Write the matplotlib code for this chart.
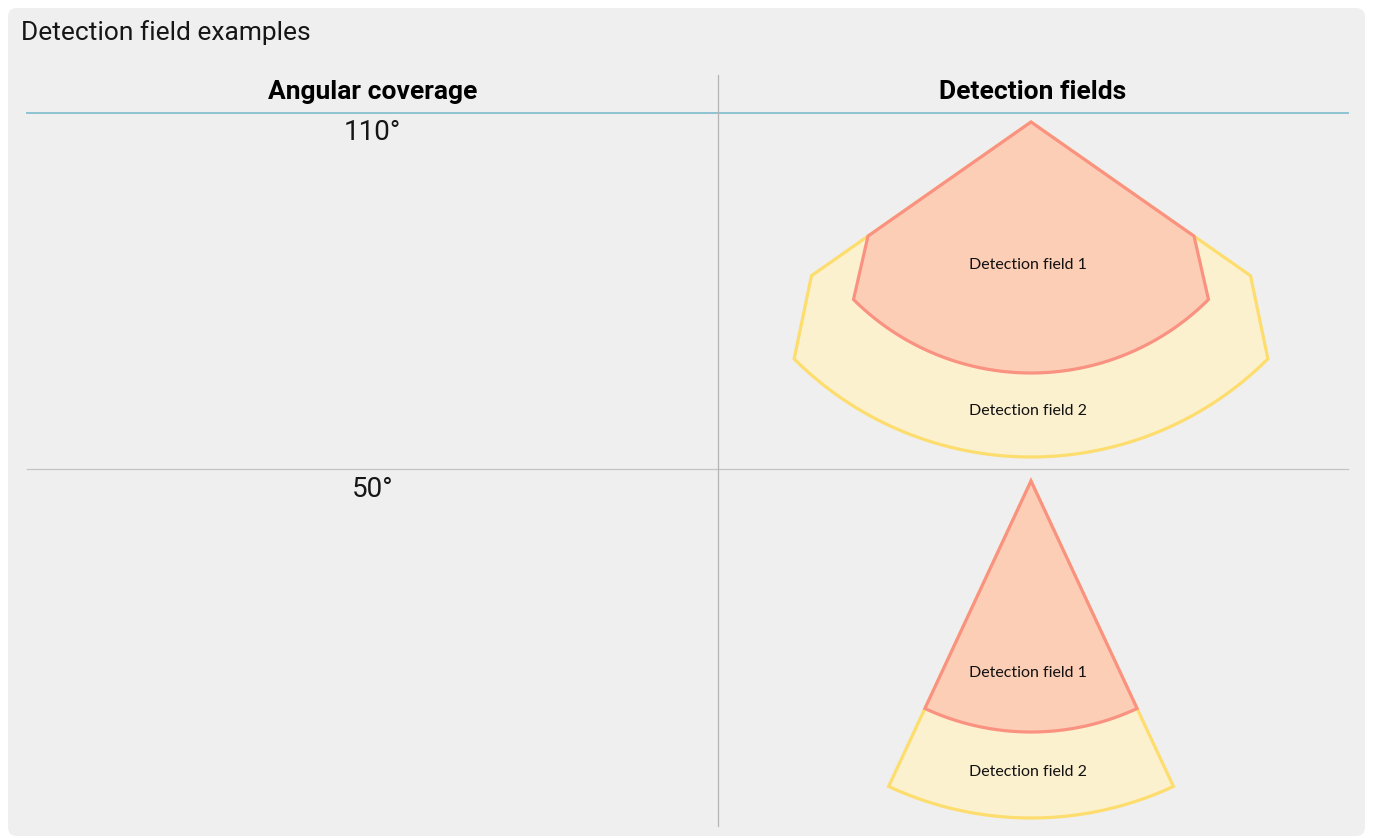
"""
Detection field examples - table with angular coverage and field shapes
"""

import numpy as np
import matplotlib.pyplot as plt
from matplotlib.patches import FancyBboxPatch, Polygon

# --- data ---------------------------------------------------------------
coverage_labels = ["110°", "50°"]
header_labels = ["Angular coverage", "Detection fields"]
field_names = ["Detection field 1", "Detection field 2"]

# half-profile of each field as (angle from centre line in deg, radius)
# going outwards from the sensor; the last point starts the outer arc
fields_110 = [
    [(55, 199), (45, 251)],   # field 1
    [(55, 268), (45, 335)],   # field 2
]
fields_50 = [
    [(25, 251)],              # field 1
    [(25, 337)],              # field 2
]

# --- styles -------------------------------------------------------------
W, H = 1373, 838
panel_color = "#efefef"
fill_colors = ["#fdceb6", "#fcf1ce"]
edge_colors = ["#fa9282", "#fddd6e"]


def field_outline(apex, profile, n_arc=80):
    """Return polygon vertices for a mirrored field profile"""
    ax0, ay0 = apex
    left = [(-a, r) for a, r in profile]
    right = [(a, r) for a, r in reversed(profile)]
    a_end, r_end = profile[-1]
    arc = [(a, r_end) for a in np.linspace(-a_end, a_end, n_arc)]
    pts = [(0, 0)] + left + arc + right
    out = []
    for a, r in pts:
        t = np.deg2rad(a)
        out.append((ax0 + r * np.sin(t), ay0 + r * np.cos(t)))
    return np.array(out)


fig = plt.figure(figsize=(W / 100, H / 100), dpi=100)
ax = fig.add_axes([0, 0, 1, 1])
ax.set_xlim(0, W)
ax.set_ylim(H, 0)
ax.axis("off")

# background panel
ax.add_patch(FancyBboxPatch((8, 8), W - 16, H - 10,
                            boxstyle="round,pad=0,rounding_size=9",
                            facecolor=panel_color, edgecolor="none"))

ax.text(21, 33, "Detection field examples", fontsize=19,
        family="Roboto", ha="left", va="center", color="#161616")

# table grid
col_left, col_mid, col_right = 27, 718, 1348
ax.plot([col_left, col_right], [113, 113], color="#8fc3d3", lw=1.4)
ax.plot([col_left, col_right], [469, 469], color="#c4c4c4", lw=0.9)
ax.plot([col_mid, col_mid], [75, 826], color="#b4b4b4", lw=0.9)

ax.text((col_left + col_mid) / 2, 92, header_labels[0], fontsize=19,
        family="Roboto", weight="bold", ha="center", va="center")
ax.text((col_mid + col_right) / 2, 92, header_labels[1], fontsize=19,
        family="Roboto", weight="bold", ha="center", va="center")

rows = [
    (coverage_labels[0], 132, fields_110, (1031, 122), [265, 411]),
    (coverage_labels[1], 489, fields_50, (1031, 481), [673, 772]),
]

for label, ly, fields, apex, text_y in rows:
    ax.text((col_left + col_mid) / 2, ly, label, fontsize=20,
            family="Roboto", ha="center", va="center", color="#161616")
    # draw the outer field first so the inner one sits on top
    for i in reversed(range(len(fields))):
        pts = field_outline(apex, fields[i])
        ax.add_patch(Polygon(pts, closed=True, facecolor=fill_colors[i],
                             edgecolor=edge_colors[i], lw=2.3,
                             joinstyle="miter"))
    for i, ty in enumerate(text_y):
        ax.text(apex[0] - 3, ty, field_names[i], fontsize=11.5,
                family="Lato", ha="center", va="center", color="#111111")

fig.savefig("out.png", dpi=100, facecolor="white")
